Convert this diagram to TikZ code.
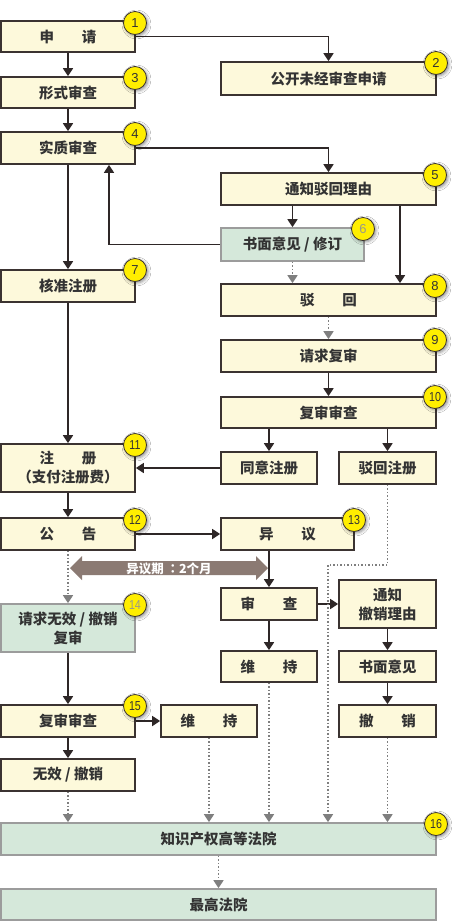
\documentclass[tikz,border=0pt]{standalone}
\usepackage{fontspec}
\usepackage{graphicx}
\usetikzlibrary{arrows.meta,shadows.blur}
\newfontfamily\cjk{Noto Sans CJK SC}
\newfontfamily\cjktc{Noto Sans CJK TC}
\newfontfamily\numf{Liberation Sans}
\newcommand\twodig[1]{\scalebox{0.82}[1]{#1}}
\definecolor{boxfill}{HTML}{FDF9DB}
\definecolor{boxline}{HTML}{3B3331}
\definecolor{grnfill}{HTML}{D5E8DA}
\definecolor{grnline}{HTML}{9C9C9C}
\definecolor{arrcol}{HTML}{2E2727}
\definecolor{dotcol}{HTML}{7F7F7F}
\definecolor{badgefill}{HTML}{FFEE00}
\definecolor{periodcol}{HTML}{8B7A73}
\definecolor{txtcol}{HTML}{333333}
\definecolor{numgray}{HTML}{9A9A8A}
\begin{document}
\begin{tikzpicture}[x=1pt,y=-1pt,
  box/.style={draw=boxline, fill=boxfill, line width=1.7pt, inner sep=0pt, align=center,
    font=\cjk\bfseries\fontsize{14.5}{19}\selectfont, text=txtcol},
  gbox/.style={box, draw=grnline, fill=grnfill},
  badge/.style={circle, draw=boxline, line width=0.8pt, fill=badgefill, minimum size=23pt, inner sep=0pt,
    font=\numf\fontsize{13}{13}\selectfont, text=txtcol,
    blur shadow={shadow xshift=1.5pt, shadow yshift=-1.5pt, shadow blur radius=3pt, shadow opacity=45}},
  arr/.style={draw=arrcol, line width=1.6pt, -{Triangle[length=8pt,width=10pt]}},
  dotarr/.style={draw=dotcol, line width=1.5pt, dotted, -{Triangle[length=8pt,width=10pt]}},
  periodtxt/.style={text=white, font=\cjk\bfseries\fontsize{12.5}{14}\selectfont, inner sep=0pt}
]
\fill[white] (0,0) rectangle (460,922);
\useasboundingbox (0,0) rectangle (460,922);

% helper coordinates
\coordinate (c58) at (400,0);
\coordinate (c64) at (109,0);
\coordinate (cj) at (328,565);

% ---- boxes ----
\node[box, minimum width=134pt, minimum height=31pt] (n1) at (68,36.5) {申\hspace{1.9em}请};
\node[box, minimum width=215pt, minimum height=33pt] (n2) at (328.5,78.5) {公开未经审查申请};
\node[box, minimum width=134pt, minimum height=31pt] (n3) at (68,92.5) {形式审查};
\node[box, minimum width=134pt, minimum height=32pt] (n4) at (68,148) {实质审查};
\node[box, minimum width=215pt, minimum height=32pt] (n5) at (328.5,189) {通知驳回理由};
\node[gbox, minimum width=143pt, minimum height=33pt] (n6) at (292.5,244.5) {书面意见 / 修订};
\node[box, minimum width=134pt, minimum height=32pt] (n7) at (68,286) {核准注册};
\node[box, minimum width=215pt, minimum height=32pt] (n8) at (328.5,300) {驳\hspace{1.9em}回};
\node[box, minimum width=215pt, minimum height=32pt] (n9) at (328.5,356) {请求复审};
\node[box, minimum width=215pt, minimum height=31pt] (n10) at (328.5,412.5) {复审审查};
\node[box, minimum width=134pt, minimum height=48pt] (n11) at (68,468) {注\hspace{1.9em}册\\（支付注册费）};
\node[box, minimum width=96pt, minimum height=32pt] (n17) at (269,468) {同意注册};
\node[box, minimum width=97pt, minimum height=32pt] (n18) at (387.5,468) {驳回注册};
\node[box, minimum width=134pt, minimum height=32pt] (n12) at (68,534) {公\hspace{1.9em}告};
\node[box, minimum width=133pt, minimum height=32pt] (n13) at (287.5,534) {异\hspace{1.9em}议};
\node[box, minimum width=96pt, minimum height=32pt] (n19) at (269,604) {审\hspace{1.9em}查};
\node[box, minimum width=97pt, minimum height=48pt] (n20) at (387.5,604) {通知\\撤销理由};
\node[gbox, minimum width=134pt, minimum height=48pt] (n14) at (68,628) {请求无效 / 撤销\\复审};
\node[box, minimum width=96pt, minimum height=31pt] (n21) at (269,666.5) {维\hspace{1.9em}持};
\node[box, minimum width=97pt, minimum height=31pt] (n22) at (387.5,666.5) {书面意见};
\node[box, minimum width=134pt, minimum height=32pt] (n15) at (68,721) {复审审查};
\node[box, minimum width=96pt, minimum height=32pt] (n23) at (209,721) {维\hspace{1.9em}持};
\node[box, minimum width=97pt, minimum height=32pt] (n24) at (387.5,721) {撤\hspace{1.9em}销};
\node[box, minimum width=134pt, minimum height=32pt] (n25) at (68,775) {无效 / 撤销};
\node[gbox, minimum width=435pt, minimum height=32pt] (n16) at (218.5,839) {知识产权高等法院};
\node[gbox, minimum width=435pt, minimum height=31pt] (n26) at (218.5,904.5) {最高法院};

% ---- opposition period arrow ----
\fill[periodcol] (70,568) -- (82,556) -- (82,561) -- (256,561) -- (256,556) -- (268,568)
  -- (256,580) -- (256,575) -- (82,575) -- (82,580) -- cycle;
\node[periodtxt] (pl) at (169,568.5) {异议期 {\cjktc ：}2个月};

% ---- solid connectors ----
\draw[arr] (n1.east) -| (n2.north);
\draw[arr] (n1) -- (n3);
\draw[arr] (n3) -- (n4);
\draw[arr] (n4.east) -| (n5.north);
\draw[arr] (n6.north |- n5.south) -- (n6.north);
\draw[arr] (n5.south -| c58) -- (n8.north -| c58);
\draw[arr] (n6.west) -| (n4.south -| c64);
\draw[arr] (n4) -- (n7);
\draw[arr] (n7) -- (n11);
\draw[arr] (n9) -- (n10);
\draw[arr] (n10.south -| n17) -- (n17.north);
\draw[arr] (n10.south -| n18) -- (n18.north);
\draw[arr] (n17.west) -- (n11.east);
\draw[arr] (n11) -- (n12);
\draw[arr] (n12.east) -- (n13.west);
\draw[arr] (n13.south -| n19) -- (n19.north);
\draw[arr] (n19.east) -- (n20.west);
\draw[arr] (n19) -- (n21);
\draw[arr] (n20) -- (n22);
\draw[arr] (n22) -- (n24);
\draw[arr] (n14) -- (n15);
\draw[arr] (n15.east) -- (n23.west);
\draw[arr] (n15) -- (n25);

% ---- dotted connectors ----
\draw[dotarr] (n6.south) -- (n8.north -| n6.south);
\draw[dotarr] (n8) -- (n9);
\draw[dotarr] (n12) -- (n14);
\draw[dotarr] (n18.south) |- (cj) -- (n16.north -| cj);
\draw[dotarr] (n25.south) -- (n16.north -| n25.south);
\draw[dotarr] (n23.south) -- (n16.north -| n23.south);
\draw[dotarr] (n21.south) -- (n16.north -| n21.south);
\draw[dotarr] (n24.south) -- (n16.north -| n24.south);
\draw[dotarr] (n16) -- (n26);

% ---- badges ----
\node[badge] (b1) at (135,23) {1};
\node[badge] (b2) at (436,63) {2};
\node[badge] (b3) at (135,78) {3};
\node[badge] (b4) at (135,134) {4};
\node[badge] (b5) at (435,175) {5};
\node[badge, text=numgray] (b6) at (363,229) {6};
\node[badge] (b7) at (135,270) {7};
\node[badge] (b8) at (435,286) {8};
\node[badge] (b9) at (435,340) {9};
\node[badge] (b10) at (435,397) {\twodig{10}};
\node[badge] (b11) at (135,445) {\twodig{11}};
\node[badge] (b12) at (135,520) {\twodig{12}};
\node[badge] (b13) at (354,520) {\twodig{13}};
\node[badge, text=numgray] (b14) at (135,605) {\twodig{14}};
\node[badge] (b15) at (135,706) {\twodig{15}};
\node[badge] (b16) at (436,824) {\twodig{16}};
\end{tikzpicture}
\end{document}
